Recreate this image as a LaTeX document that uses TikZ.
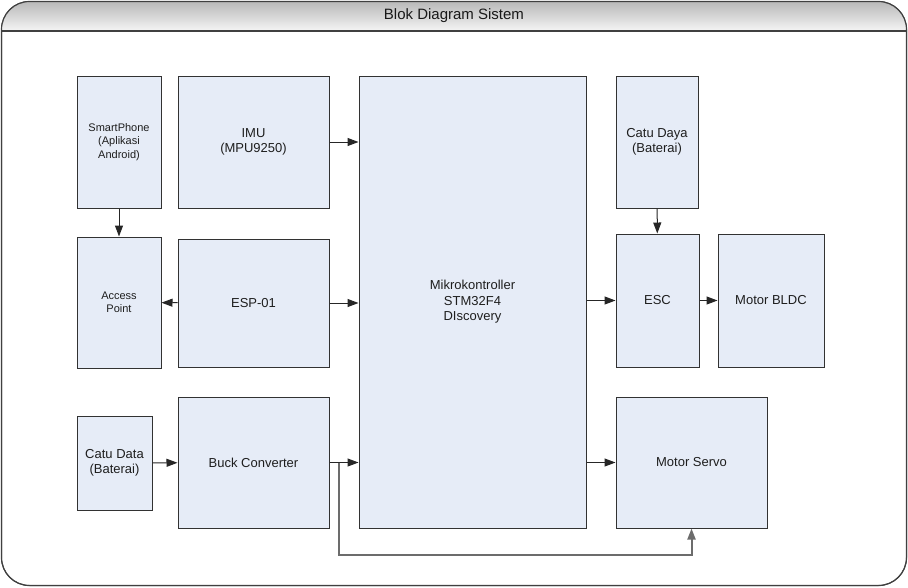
\documentclass[tikz,border=0pt]{standalone}
\usepackage{fontspec}
\setmainfont{Liberation Sans}
\usetikzlibrary{arrows.meta,calc}
\definecolor{isiblok}{RGB}{230,236,247}
\definecolor{garisblok}{RGB}{50,50,50}
\definecolor{teksblok}{RGB}{30,30,30}
\begin{document}
\begin{tikzpicture}[x=1pt, y=-1pt,
    blok/.style={draw=garisblok, fill=isiblok, line width=1pt, text=teksblok, align=center, inner sep=2pt, font=\fontsize{13}{15.5}\selectfont},
    blokkecil/.style={blok, font=\fontsize{11}{13.5}\selectfont},
    panah/.style={-{Triangle[length=11pt,width=8pt]}, line width=1pt, draw=black!85},
    jalur/.style={panah, draw=gray!85!black, line width=2pt}]
    \useasboundingbox (0,0) rectangle (908,587);
    % bingkai luar dan judul
    \draw[fill=white, draw=black!75, line width=1pt, rounded corners=28pt] (1.5,1.5) rectangle (906.5,585.5);
    \begin{scope}
        \clip[rounded corners=28pt] (1.5,1.5) rectangle (906.5,585.5);
        \shade[top color=gray!55, bottom color=gray!8] (1.5,1.5) rectangle (906.5,31);
    \end{scope}
    \draw[draw=black!75, line width=1.2pt, rounded corners=28pt] (1.5,1.5) rectangle (906.5,585.5);
    \draw[black!75, line width=1.2pt] (1.5,31) -- (906.5,31);
    \node[font=\fontsize{15}{18}\selectfont, text=black!90] (judul) at (454,16) {Blok Diagram Sistem};
    % blok-blok
    \node[blokkecil, minimum width=84, minimum height=132] (hp) at (119,142) {SmartPhone\\(Aplikasi\\Android)};
    \node[blok, minimum width=151, minimum height=132] (imu) at (253.5,142) {IMU\\(MPU9250)};
    \node[blokkecil, minimum width=84, minimum height=131] (ap) at (119,302.5) {Access\\Point};
    \node[blok, minimum width=151, minimum height=128] (esp) at (253.5,303) {ESP-01};
    \node[blok, minimum width=75, minimum height=94] (catudata) at (114.5,463) {Catu Data\\(Baterai)};
    \node[blok, minimum width=151, minimum height=131] (buck) at (253.5,462.5) {Buck Converter};
    \node[blok, minimum width=227, minimum height=452] (mcu) at (472.5,302) {Mikrokontroller\\STM32F4\\DIscovery};
    \node[blok, minimum width=82, minimum height=132] (catudaya) at (657,142) {Catu Daya\\(Baterai)};
    \node[blok, minimum width=83, minimum height=133] (esc) at (657.5,300.5) {ESC};
    \node[blok, minimum width=106, minimum height=133] (bldc) at (771,300.5) {Motor BLDC};
    \node[blok, minimum width=151, minimum height=131] (servo) at (691.5,462.5) {Motor Servo};
    % panah
    \draw[panah] (imu.east) -- (imu.east -| mcu.west);
    \draw[panah] (hp) -- (ap);
    \draw[panah] (esp) -- (ap);
    \draw[panah] (esp) -- (esp -| mcu.west);
    \draw[panah] (esc -| mcu.east) -- (esc);
    \draw[panah] (esc) -- (bldc);
    \draw[panah] (catudaya) -- (esc);
    \draw[panah] (catudata) -- (buck);
    \draw[panah] (buck) -- (buck -| mcu.west);
    \draw[panah] (servo -| mcu.east) -- (servo);
    \coordinate (cabang) at ($(buck.east)+(9,0)$);
    \draw[jalur] (cabang) -- ++(0,92) -| (servo.south);
\end{tikzpicture}
\end{document}
